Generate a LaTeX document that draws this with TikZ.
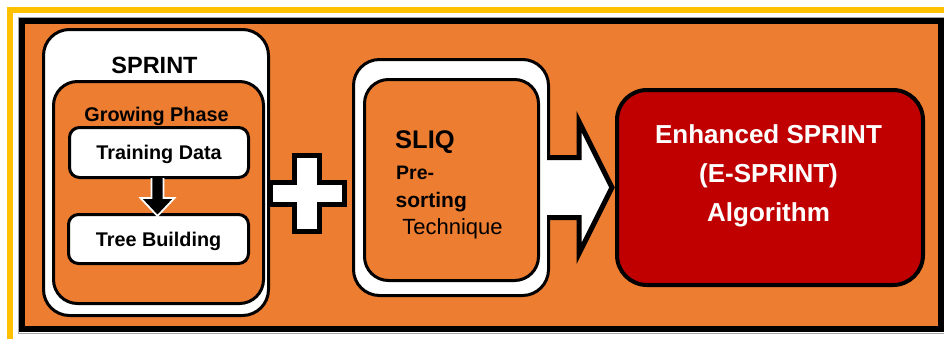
\documentclass[tikz,border=0pt]{standalone}
\usepackage{fontspec}
\setmainfont{Liberation Sans}
\usetikzlibrary{calc}
\definecolor{spOrange}{RGB}{237,125,49}
\definecolor{spRed}{RGB}{192,0,0}
\definecolor{spYellow}{RGB}{255,192,0}
\definecolor{spGray}{RGB}{165,165,165}

\begin{document}
\begin{tikzpicture}[x=1pt, y=-1pt,
  ring/.style={draw=black, line width=3pt, fill=white, rounded corners=26pt, inner sep=0pt},
  core/.style={draw=black, line width=3pt, fill=spOrange, rounded corners=24pt, inner sep=0pt},
  stepbox/.style={draw=black, line width=3pt, fill=white, rounded corners=10pt, minimum width=179pt,
    minimum height=50pt, inner sep=0pt, text height=14pt, text depth=0pt,
    font=\fontsize{19.8}{22}\selectfont\bfseries},
  algbox/.style={draw=black, line width=4pt, fill=spRed, rounded corners=30pt, inner sep=0pt},
  lbl/.style={inner sep=0pt, anchor=base},
  blockar/.style={fill=white, draw=black, line width=5pt, line join=miter}
]
\useasboundingbox (0,0) rectangle (944,338);
\fill[white] (0,0) rectangle (944,338);

% frame
\draw[spYellow, line width=6pt] (10,340) |- (946,10);
\draw[spGray, line width=1pt] (18,17.5) rectangle (945,333);
\draw[line width=6pt, fill=spOrange] (22,21) rectangle (941,329);

% SPRINT
\node[ring, minimum width=225pt, minimum height=286pt] (sprint) at (156,172.5) {};
\node[lbl, font=\fontsize{23.5}{26}\selectfont\bfseries] (sprintlbl) at (154.5,73.5) {SPRINT};
\node[core, minimum width=210pt, minimum height=222pt] (grow) at (158.5,192.5) {};
\node[lbl, font=\fontsize{19.8}{22}\selectfont\bfseries] (growlbl) at (156.5,121) {Growing Phase};
\node[stepbox] (train) at (159,152.5) {Training Data};
\node[stepbox, minimum width=180pt, minimum height=49pt] (tree) at (158.5,239) {Tree Building};

% down arrow
\coordinate (dtop) at ($(train.south)+(-1.5,0)$);
\filldraw[fill=black, draw=white, line width=1.8pt, line join=miter]
  ($(dtop)+(-6,-1)$) -- ($(dtop)+(-6,19)$) -- ($(dtop)+(-17,19)$) -- ($(dtop)+(0,37)$)
  -- ($(dtop)+(17,19)$) -- ($(dtop)+(6,19)$) -- ($(dtop)+(6,-1)$);

% plus
\coordinate (plus) at (307,193);
\filldraw[blockar] ($(plus)+(-37,-11)$) -- ($(plus)+(-12.5,-11)$) -- ($(plus)+(-12.5,-38)$)
  -- ($(plus)+(12.5,-38)$) -- ($(plus)+(12.5,-11)$) -- ($(plus)+(37,-11)$)
  -- ($(plus)+(37,11)$) -- ($(plus)+(12.5,11)$) -- ($(plus)+(12.5,38)$)
  -- ($(plus)+(-12.5,38)$) -- ($(plus)+(-12.5,11)$) -- ($(plus)+(-37,11)$) -- cycle;

% SLIQ
\node[ring, minimum width=195pt, minimum height=236pt] (sliqo) at (451,177.5) {};
\node[core, minimum width=174pt, minimum height=201pt] (sliq) at (451.5,180) {};
\node[lbl, anchor=base west, font=\fontsize{25.5}{26}\selectfont\bfseries] (sliqlbl) at (395,148.5) {SLIQ};
\node[lbl, anchor=base west, font=\fontsize{19.5}{22}\selectfont\bfseries] (prelbl) at (396,179.5) {Pre-};
\node[lbl, anchor=base west, font=\fontsize{21}{22}\selectfont\bfseries] (sortlbl) at (395.5,207.5) {sorting};
\node[lbl, anchor=base west, font=\fontsize{22}{22}\selectfont] (techlbl) at (396,234) {\ Technique};

% E-SPRINT
\node[algbox, minimum width=306pt, minimum height=195pt] (esprint) at (770,187.5) {};
\node[inner sep=0pt, align=center, text=white, font=\fontsize{26}{39}\selectfont\bfseries]
  (esprintlbl) at ($(esprint.center)+(-1.5,-12)$) {Enhanced SPRINT\\(E-SPRINT)\\Algorithm};

% big arrow
\coordinate (atip) at (esprint.west);
\coordinate (abase) at (sliqo.east |- atip);
\filldraw[blockar] ($(abase)+(-3,-30)$) -- ($(atip)+(-36,-30)$) -- ($(atip)+(-36,-66)$)
  -- ($(atip)+(-3,0)$) -- ($(atip)+(-36,66)$) -- ($(atip)+(-36,30)$) -- ($(abase)+(-3,30)$);
\end{tikzpicture}
\end{document}
